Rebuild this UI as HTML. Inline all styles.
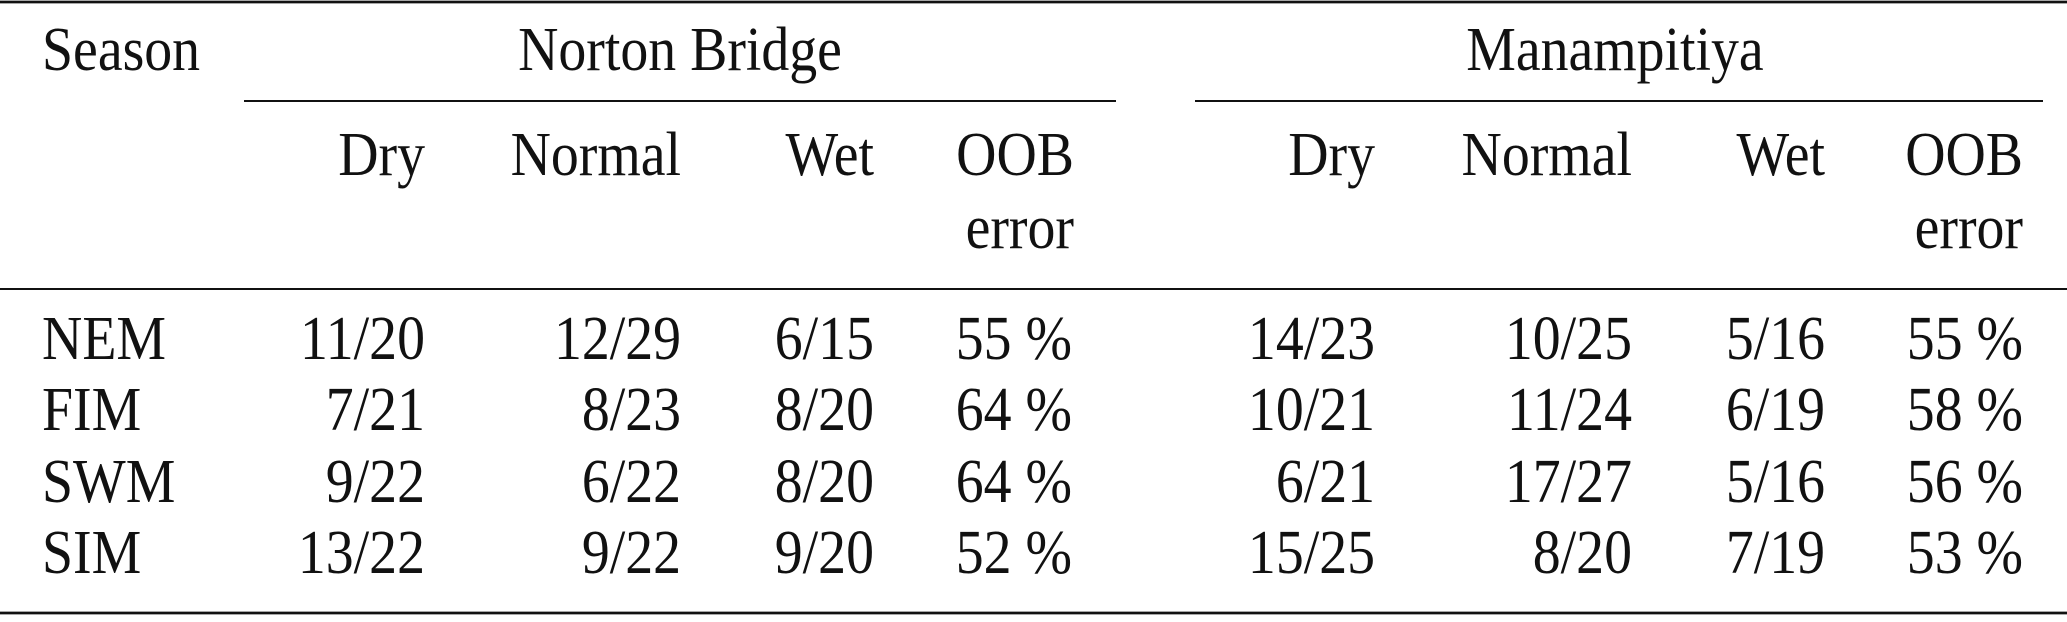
<!DOCTYPE html>
<html><head><meta charset="utf-8"><style>
html,body{margin:0;padding:0;background:#fff;}
svg text{font-family:"Liberation Serif",serif;font-size:62px;fill:#111;}
</style></head><body>
<svg width="2067" height="617" xmlns="http://www.w3.org/2000/svg">
<rect x="0" y="0" width="2067" height="617" fill="#fff"/>
<line x1="0" y1="2" x2="2067" y2="2" stroke="#111" stroke-width="2.8"/>
<line x1="244" y1="101" x2="1116" y2="101" stroke="#111" stroke-width="2"/>
<line x1="1195" y1="101" x2="2043" y2="101" stroke="#111" stroke-width="2"/>
<line x1="0" y1="289" x2="2067" y2="289" stroke="#111" stroke-width="2"/>
<line x1="0" y1="613" x2="2067" y2="613" stroke="#111" stroke-width="2.8"/>
<g transform="scale(0.9,1)">
<text x="46.7" y="70">Season</text>
<text x="755.6" y="70" text-anchor="middle">Norton Bridge</text>
<text x="1794.4" y="70" text-anchor="middle">Manampitiya</text>
<g text-anchor="end">
<text x="472.2" y="175">Dry</text><text x="756.7" y="175">Normal</text><text x="971.1" y="175">Wet</text><text x="1193.3" y="175">OOB</text><text x="1193.3" y="248">error</text>
<text x="1527.8" y="175">Dry</text><text x="1813.3" y="175">Normal</text><text x="2027.8" y="175">Wet</text><text x="2247.8" y="175">OOB</text><text x="2247.8" y="248">error</text>
</g>
<text x="46.7" y="359">NEM</text><text x="46.7" y="430">FIM</text><text x="46.7" y="502">SWM</text><text x="46.7" y="573">SIM</text>
<g text-anchor="end">
<text x="472.2" y="359">11/20</text><text x="756.7" y="359">12/29</text><text x="971.1" y="359">6/15</text><text x="1191.1" y="359">55 %</text>
<text x="1527.8" y="359">14/23</text><text x="1813.3" y="359">10/25</text><text x="2027.8" y="359">5/16</text><text x="2247.8" y="359">55 %</text>
<text x="472.2" y="430">7/21</text><text x="756.7" y="430">8/23</text><text x="971.1" y="430">8/20</text><text x="1191.1" y="430">64 %</text>
<text x="1527.8" y="430">10/21</text><text x="1813.3" y="430">11/24</text><text x="2027.8" y="430">6/19</text><text x="2247.8" y="430">58 %</text>
<text x="472.2" y="502">9/22</text><text x="756.7" y="502">6/22</text><text x="971.1" y="502">8/20</text><text x="1191.1" y="502">64 %</text>
<text x="1527.8" y="502">6/21</text><text x="1813.3" y="502">17/27</text><text x="2027.8" y="502">5/16</text><text x="2247.8" y="502">56 %</text>
<text x="472.2" y="573">13/22</text><text x="756.7" y="573">9/22</text><text x="971.1" y="573">9/20</text><text x="1191.1" y="573">52 %</text>
<text x="1527.8" y="573">15/25</text><text x="1813.3" y="573">8/20</text><text x="2027.8" y="573">7/19</text><text x="2247.8" y="573">53 %</text>
</g>
</g>
</svg>
</body></html>
